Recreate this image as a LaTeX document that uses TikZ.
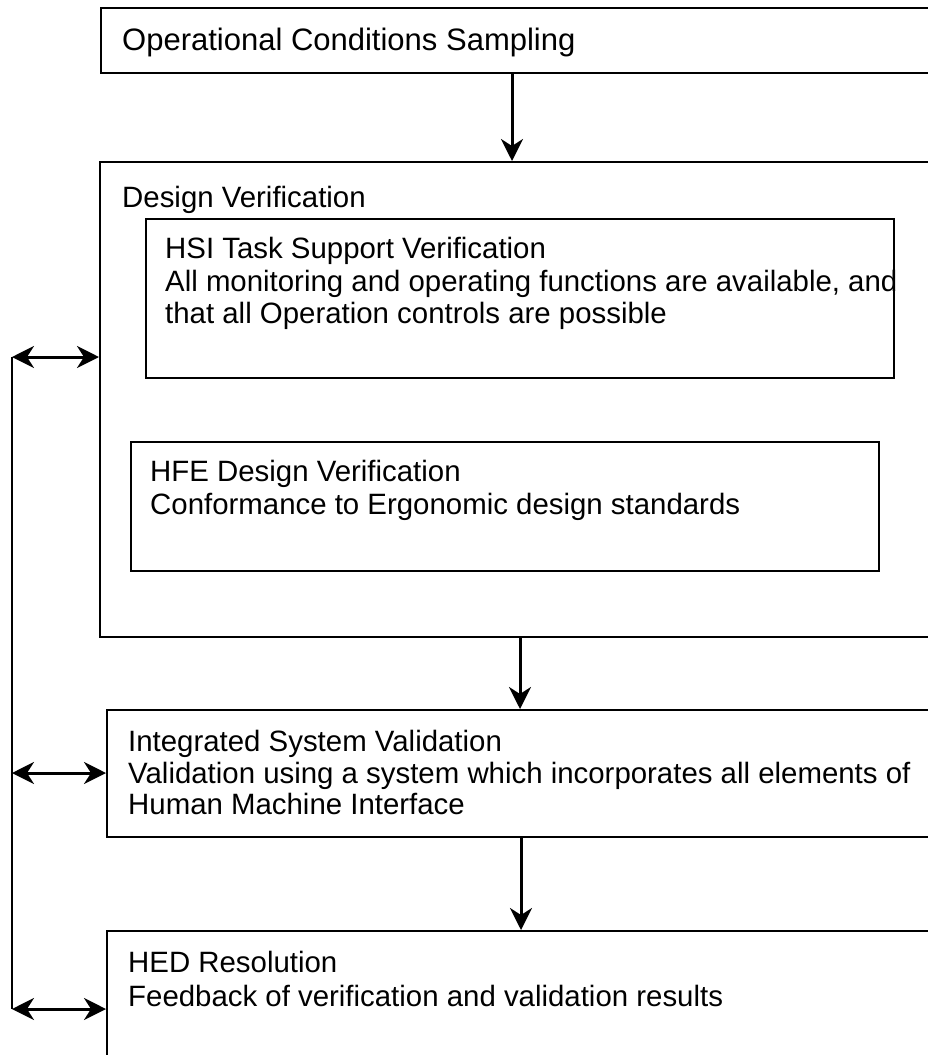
\documentclass[tikz,border=0pt]{standalone}
\usepackage{fontspec}
\setmainfont{Liberation Sans}
\usetikzlibrary{arrows.meta}
\tikzset{
  box/.style={draw, line width=1.8pt, inner sep=0pt, anchor=north west},
  txt/.style={anchor=base west, inner sep=0pt, font=\fontsize{29.4}{33}\selectfont},
  bigtxt/.style={anchor=base west, inner sep=0pt, font=\fontsize{31}{35}\selectfont},
  tip/.tip={Stealth[length=22pt,width=22pt,inset=7pt]},
  arr/.style={line width=3pt, -tip},
  darr/.style={line width=3pt, tip-tip},
  side/.style={line width=2pt}
}
\begin{document}
\begin{tikzpicture}[x=1pt,y=-1pt]
\useasboundingbox (0,0) rectangle (928,1055);
\clip (0,0) rectangle (928,1055);
% boxes
\node[box, minimum width=850pt, minimum height=65pt] (ocs) at (100,7) {};
\node[box, minimum width=850pt, minimum height=475pt] (dv) at (99,161) {};
\node[box, minimum width=748pt, minimum height=159pt] (hsi) at (145,218) {};
\node[box, minimum width=748pt, minimum height=129pt] (hfe) at (130,441) {};
\node[box, minimum width=850pt, minimum height=127pt] (isv) at (106,709) {};
\node[box, minimum width=850pt, minimum height=150pt] (hed) at (106,930) {};
% texts
\node[bigtxt] (t1) at (122,50) {Operational Conditions Sampling};
\node[txt] (t2) at (122,207) {Design Verification};
\node[txt] (t3) at (165,258) {HSI Task Support Verification};
\node[txt] (t4) at (165,291) {All monitoring and operating functions are available, and};
\node[txt] (t5) at (165,323) {that all Operation controls are possible};
\node[txt] (t6) at (150,481) {HFE Design Verification};
\node[txt] (t7) at (150,514) {Conformance to Ergonomic design standards};
\node[txt] (t8) at (128,751) {Integrated System Validation};
\node[txt] (t9) at (128,783) {Validation using a system which incorporates all elements of};
\node[txt] (t10) at (128,814) {Human Machine Interface};
\node[txt] (t11) at (128,972) {HED Resolution};
\node[txt] (t12) at (128,1006) {Feedback of verification and validation results};
% vertical arrows
\coordinate (a1) at (512,0);
\coordinate (a2) at (520,0);
\coordinate (a3) at (521,0);
\draw[arr] (ocs.south -| a1) -- (dv.north -| a1);
\draw[arr] (dv.south -| a2) -- (isv.north -| a2);
\draw[arr] (isv.south -| a3) -- (hed.north -| a3);
% left feedback line
\coordinate (L1) at (12,357);
\coordinate (L2) at (12,773);
\coordinate (L3) at (12,1009);
\draw[side] (L1) -- (L3);
\draw[darr] (L1) -- (dv.west |- L1);
\draw[darr] (L2) -- (isv.west |- L2);
\draw[darr] (L3) -- (hed.west |- L3);
\end{tikzpicture}
\end{document}
